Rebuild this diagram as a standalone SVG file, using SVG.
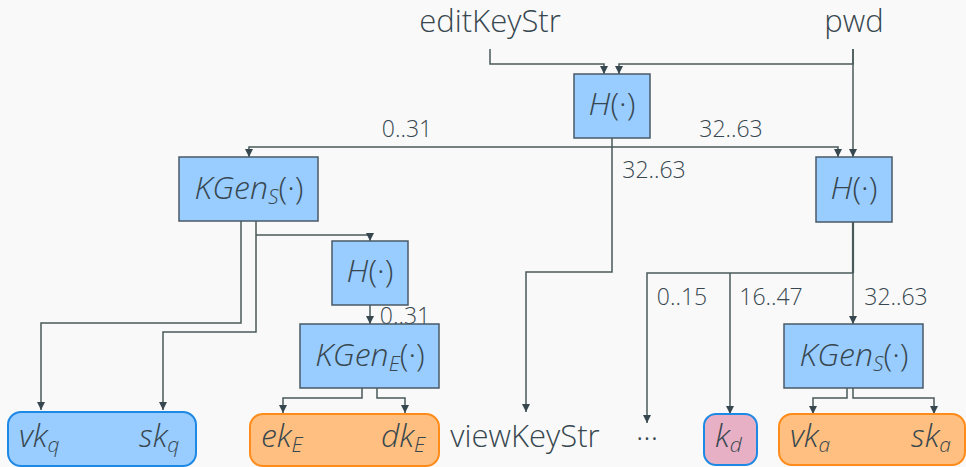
<svg xmlns="http://www.w3.org/2000/svg" width="966" height="467" viewBox="0 0 966 467">
  <style>
    .bg { fill: #f9f9f9; }
    .box { fill: #99ccff; stroke: #4a5a66; stroke-width: 1.5; }
    .outq { fill: #99ccff; stroke: #1e88e5; stroke-width: 2; }
    .outo { fill: #ffbf80; stroke: #ff8c1a; stroke-width: 2; }
    .outd { fill: #e8b0c4; stroke: #1e88e5; stroke-width: 2; }
    .wire { fill: none; stroke: #4a5a5a; stroke-width: 1.5; }
    .head { fill: #37474f; }
    text { font-family: "Open Sans", "Noto Sans", "DejaVu Sans", sans-serif; font-weight: 300; fill: #37474f; }
    .lbl { font-size: 31px; }
    .num { font-size: 23px; }
    .fn { font-size: 32px; }
    .it { font-style: italic; }
    .sub { font-size: 21px; font-style: italic; }
  </style>

  <rect class="bg" x="0" y="0" width="966" height="467"/>

  <!-- connectors -->
  <g id="connectors">
    <!-- inputs into top hash -->
    <path class="wire" d="M490,49 V64 H604 V74"/>
    <path class="head" d="M600,66 L608,66 L604,74 Z"/>
    <path class="wire" d="M853,49 V64 H619 V74"/>
    <path class="head" d="M615,66 L623,66 L619,74 Z"/>
    <!-- pwd down to right hash -->
    <path class="wire" d="M853,49 V157"/>
    <path class="head" d="M849,149 L857,149 L853,157 Z"/>
    <!-- split bus from top hash -->
    <path class="wire" d="M249,157 V147 H838 V157"/>
    <path class="head" d="M245,149 L253,149 L249,157 Z"/>
    <path class="head" d="M834,149 L842,149 L838,157 Z"/>
    <!-- top hash to viewKeyStr -->
    <path class="wire" d="M612,138 V272 H526 V412"/>
    <path class="head" d="M522,404 L530,404 L526,412 Z"/>
    <!-- left KGen_S outputs -->
    <path class="wire" d="M241,221 V323 H41 V410"/>
    <path class="head" d="M37,402 L45,402 L41,410 Z"/>
    <path class="wire" d="M256,221 V332 H163 V410"/>
    <path class="head" d="M159,402 L167,402 L163,410 Z"/>
    <path class="wire" d="M256,235 H370 V241"/>
    <path class="head" d="M366,233 L374,233 L370,241 Z"/>
    <!-- middle hash to KGen_E -->
    <path class="wire" d="M370,305 V324"/>
    <path class="head" d="M366,316 L374,316 L370,324 Z"/>
    <!-- KGen_E outputs -->
    <path class="wire" d="M362,388 V398 H283 V413"/>
    <path class="head" d="M279,405 L287,405 L283,413 Z"/>
    <path class="wire" d="M377,388 V398 H405 V413"/>
    <path class="head" d="M401,405 L409,405 L405,413 Z"/>
    <!-- right hash outputs -->
    <path class="wire" d="M853,222 V273" style="stroke-width:2.2"/>
    <path class="wire" d="M853,273 H647 V423"/>
    <path class="head" d="M643,415 L651,415 L647,423 Z"/>
    <path class="wire" d="M730,273 V414"/>
    <path class="head" d="M726,406 L734,406 L730,414 Z"/>
    <path class="wire" d="M853,273 V324"/>
    <path class="head" d="M849,316 L857,316 L853,324 Z"/>
    <!-- right KGen_S outputs -->
    <path class="wire" d="M847,388 V398 H813 V414"/>
    <path class="head" d="M809,406 L817,406 L813,414 Z"/>
    <path class="wire" d="M853,388 V398 H934 V414"/>
    <path class="head" d="M930,406 L938,406 L934,414 Z"/>
    <!-- bit-range labels -->
    <text class="num" x="407" y="137" text-anchor="middle">0..31</text>
    <text class="num" x="731" y="137" text-anchor="middle">32..63</text>
    <text class="num" x="654" y="178" text-anchor="middle">32..63</text>
    <text class="num" x="405" y="324" text-anchor="middle">0..31</text>
    <text class="num" x="682" y="305" text-anchor="middle">0..15</text>
    <text class="num" x="771" y="305" text-anchor="middle">16..47</text>
    <text class="num" x="896" y="305" text-anchor="middle">32..63</text>
  </g>

  <g id="editKeyStr">
    <text class="lbl" x="490" y="32" text-anchor="middle">editKeyStr</text>
  </g>
  <g id="pwd">
    <text class="lbl" x="854" y="32" text-anchor="middle">pwd</text>
  </g>

  <g id="hash-top">
    <rect class="box" x="574" y="74" width="76" height="64"/>
    <text class="fn" x="612" y="115" text-anchor="middle"><tspan class="it">H</tspan>(·)</text>
  </g>
  <g id="hash-right">
    <rect class="box" x="816" y="157" width="76" height="65"/>
    <text class="fn" x="854" y="199" text-anchor="middle"><tspan class="it">H</tspan>(·)</text>
  </g>
  <g id="hash-mid">
    <rect class="box" x="332" y="241" width="76" height="64"/>
    <text class="fn" x="370" y="282" text-anchor="middle"><tspan class="it">H</tspan>(·)</text>
  </g>

  <g id="kgen-s-left">
    <rect class="box" x="179" y="157" width="139" height="64"/>
    <text class="fn" x="249" y="199" text-anchor="middle"><tspan class="it">KGen</tspan><tspan class="sub" dy="5">S</tspan><tspan dy="-5">(·)</tspan></text>
  </g>
  <g id="kgen-e">
    <rect class="box" x="300" y="324" width="139" height="64"/>
    <text class="fn" x="370" y="366" text-anchor="middle"><tspan class="it">KGen</tspan><tspan class="sub" dy="5">E</tspan><tspan dy="-5">(·)</tspan></text>
  </g>
  <g id="kgen-s-right">
    <rect class="box" x="784" y="324" width="139" height="64"/>
    <text class="fn" x="854" y="366" text-anchor="middle"><tspan class="it">KGen</tspan><tspan class="sub" dy="5">S</tspan><tspan dy="-5">(·)</tspan></text>
  </g>

  <g id="keys-q">
    <rect class="outq" x="8" y="412" width="188" height="54" rx="13"/>
    <text class="fn" x="19" y="447"><tspan class="it">vk</tspan><tspan class="sub" dy="5">q</tspan></text>
    <text class="fn" x="139" y="447"><tspan class="it">sk</tspan><tspan class="sub" dy="5">q</tspan></text>
  </g>
  <g id="keys-e">
    <rect class="outo" x="250" y="414" width="189" height="52" rx="13"/>
    <text class="fn" x="261" y="447"><tspan class="it">ek</tspan><tspan class="sub" dy="5">E</tspan></text>
    <text class="fn" x="381" y="447"><tspan class="it">dk</tspan><tspan class="sub" dy="5">E</tspan></text>
  </g>
  <g id="viewKeyStr">
    <text class="lbl" x="525" y="447" text-anchor="middle">viewKeyStr</text>
  </g>
  <g id="ellipsis">
    <text class="lbl" x="647" y="440" text-anchor="middle">...</text>
  </g>
  <g id="key-d">
    <rect class="outd" x="704" y="414" width="53" height="51" rx="12"/>
    <text class="fn" x="715" y="447"><tspan class="it">k</tspan><tspan class="sub" dy="5">d</tspan></text>
  </g>
  <g id="keys-a">
    <rect class="outo" x="779" y="414" width="186" height="51" rx="13"/>
    <text class="fn" x="790" y="447"><tspan class="it">vk</tspan><tspan class="sub" dy="5">a</tspan></text>
    <text class="fn" x="911" y="447"><tspan class="it">sk</tspan><tspan class="sub" dy="5">a</tspan></text>
  </g>
</svg>
